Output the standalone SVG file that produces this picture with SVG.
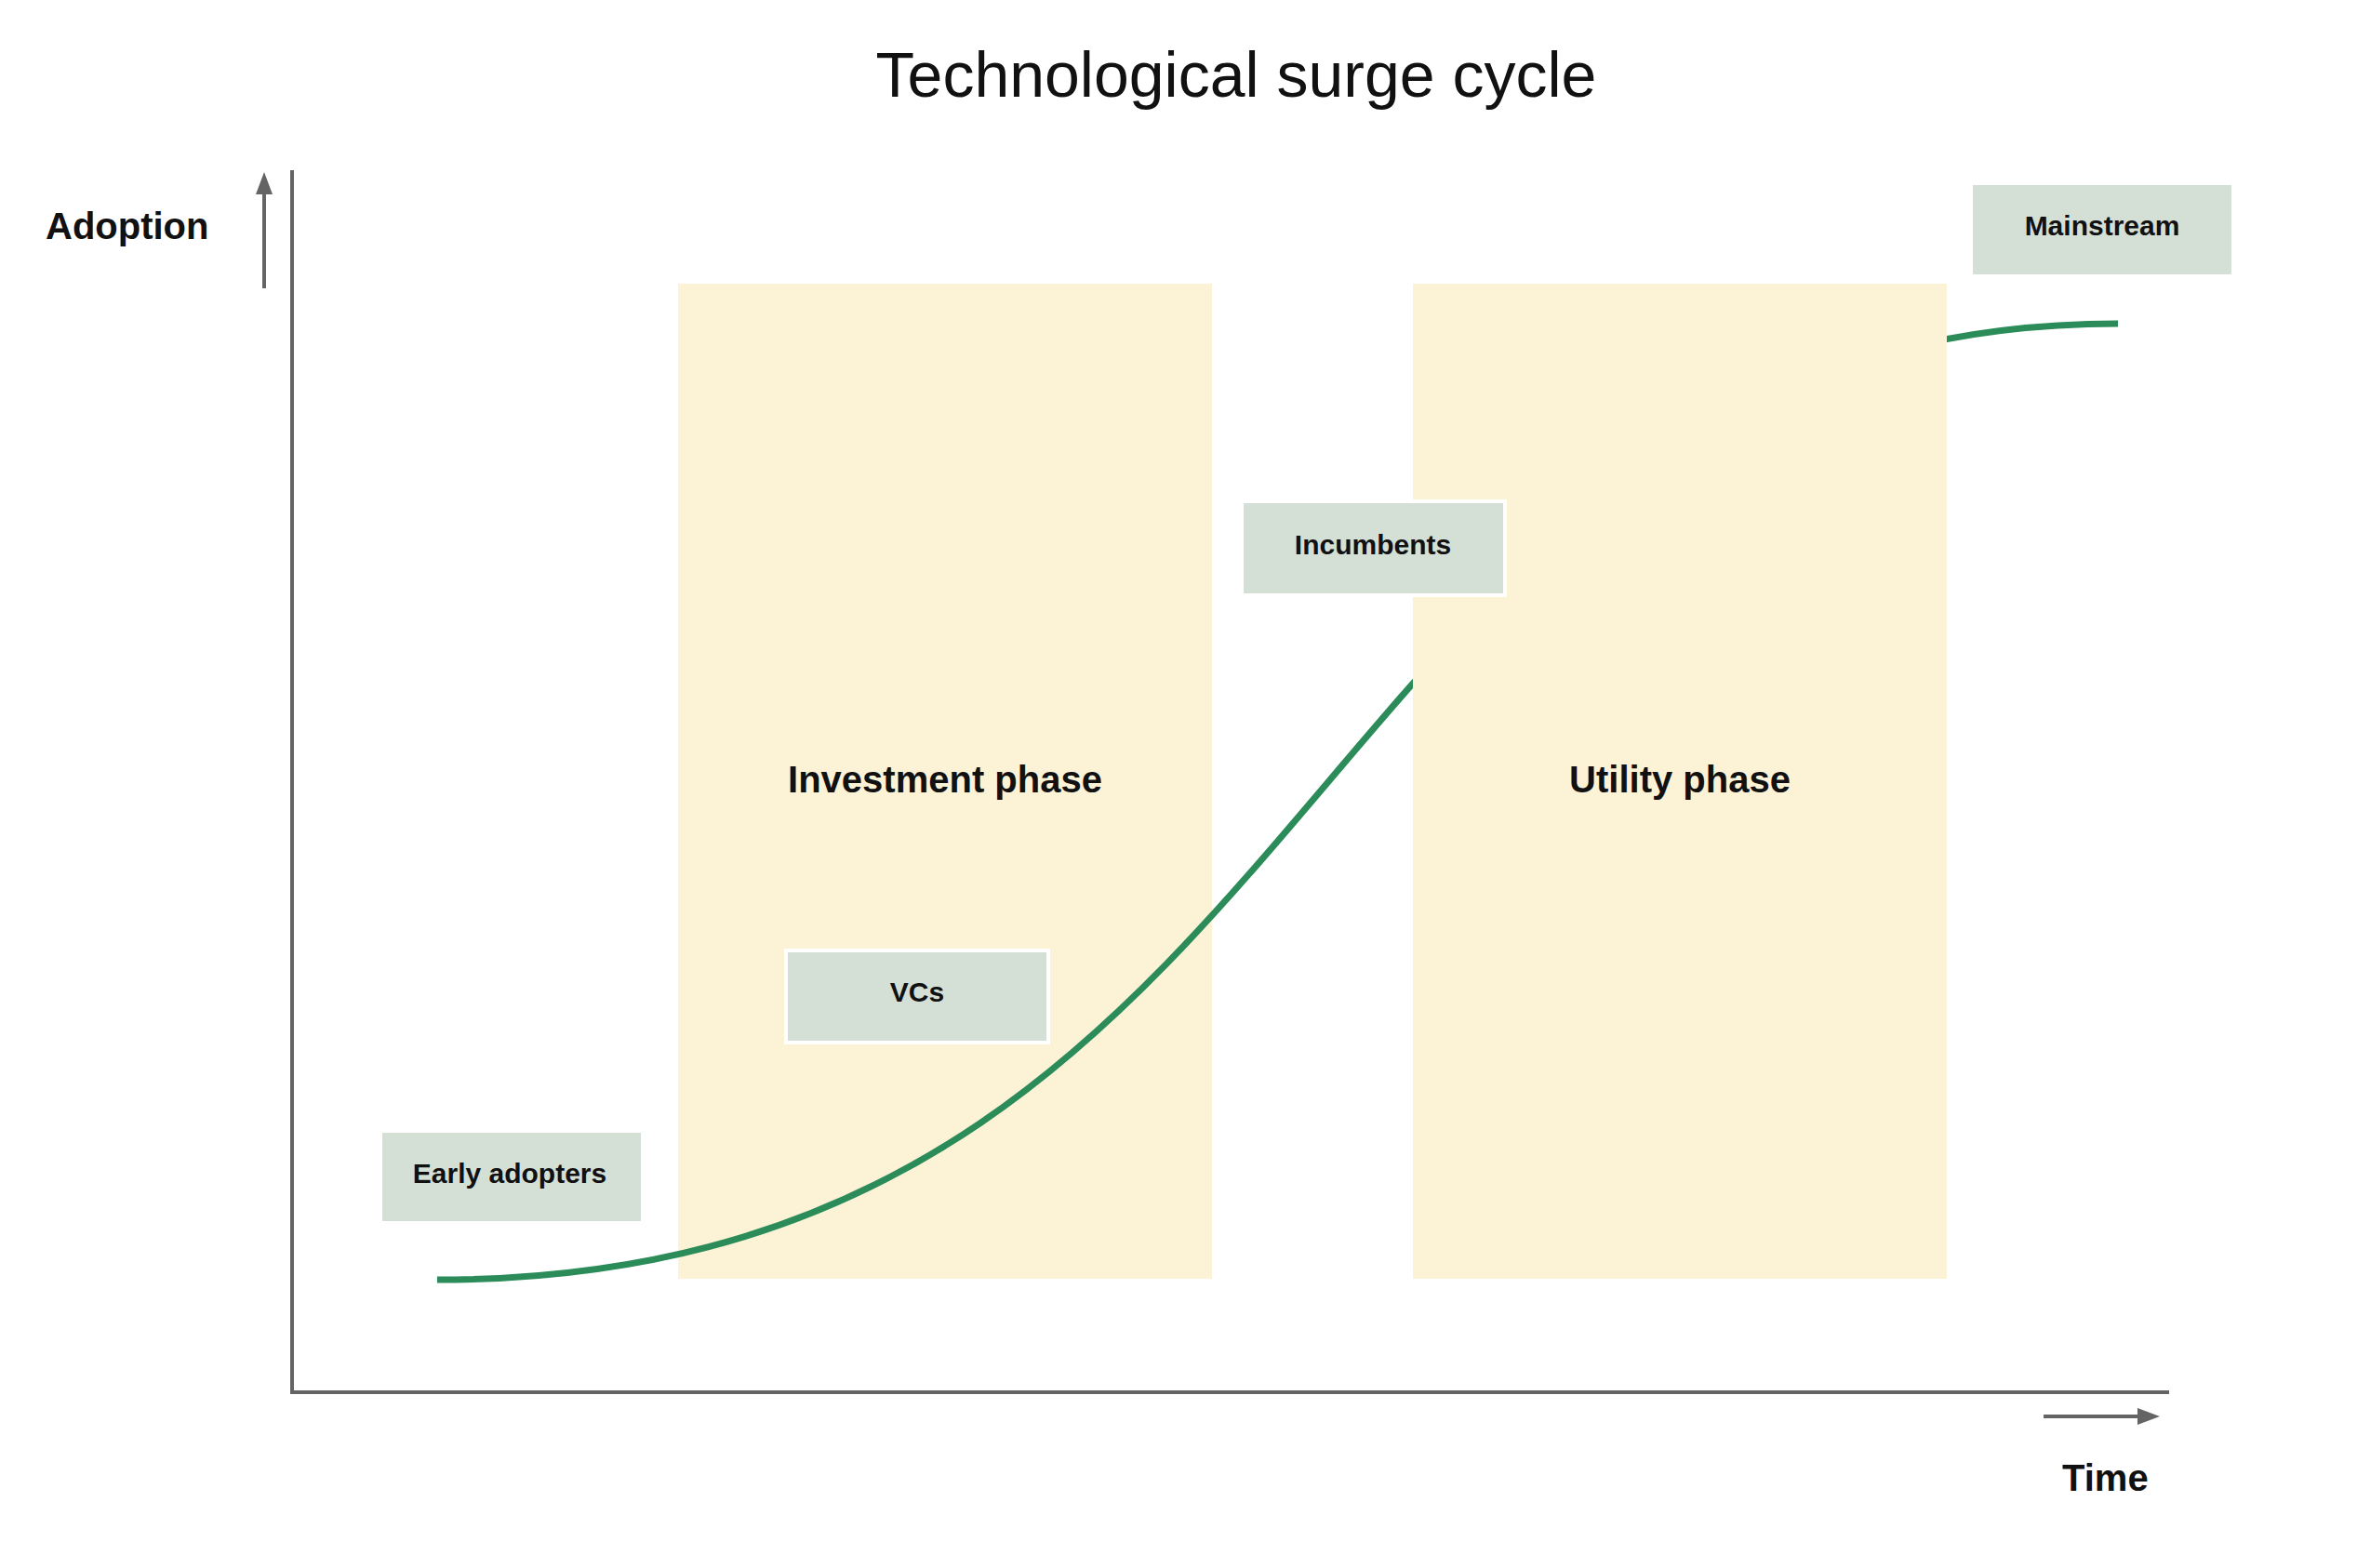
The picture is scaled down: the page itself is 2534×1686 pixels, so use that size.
<svg xmlns="http://www.w3.org/2000/svg" width="2534" height="1686" viewBox="0 0 2534 1686">
  <style>
    .phase { fill: #FCF3D7; }
    .box { fill: #D4E0D6; stroke: #FFFFFF; stroke-width: 4; }
    .boxtext { font-family: "Liberation Sans", Arial, Helvetica, sans-serif; font-weight: bold; font-size: 30px; fill: #111111; text-anchor: middle; }
    .phasetext { font-family: "Liberation Sans", Arial, Helvetica, sans-serif; font-weight: bold; font-size: 40px; fill: #111111; text-anchor: middle; }
    .axistext { font-family: "Liberation Sans", Arial, Helvetica, sans-serif; font-weight: bold; font-size: 40px; fill: #111111; }
    .title { font-family: "Liberation Sans", Arial, Helvetica, sans-serif; font-size: 68px; fill: #111111; text-anchor: middle; }
    .axis { stroke: #646464; stroke-width: 4; fill: none; }
    .curve { stroke: #2B8C5A; stroke-width: 7; fill: none; }
  </style>
  <defs>
    <marker id="arrow" viewBox="0 0 24 18" markerWidth="24" markerHeight="18" refX="0" refY="9" orient="auto" markerUnits="userSpaceOnUse">
      <path d="M0,0 L24,9 L0,18 Z" fill="#646464"/>
    </marker>
  </defs>
  <rect x="0" y="0" width="2534" height="1686" fill="#FFFFFF"/>

  <text id="title" class="title" x="1329" y="104">Technological surge cycle</text>

  <g id="investment-phase">
    <rect class="phase" x="729" y="305" width="574" height="1070"/>
    <text class="phasetext" x="1016" y="852">Investment phase</text>
  </g>

  <g id="connectors">
    <path id="adoption-curve" class="curve" d="M470,1376 C1452,1376 1392,348 2277,348"/>
    <line class="axis" x1="314" y1="183" x2="314" y2="1497"/>
    <line class="axis" x1="312" y1="1497" x2="2332" y2="1497"/>
    <line class="axis" x1="284" y1="310" x2="284" y2="209" marker-end="url(#arrow)"/>
    <line class="axis" x1="2197" y1="1523" x2="2298" y2="1523" marker-end="url(#arrow)"/>
  </g>

  <g id="utility-phase">
    <rect class="phase" x="1519" y="305" width="574" height="1070"/>
    <text class="phasetext" x="1806" y="852">Utility phase</text>
  </g>

  <g id="label-adoption">
    <text class="axistext" x="49" y="257">Adoption</text>
  </g>
  <g id="label-time">
    <text class="axistext" x="2217" y="1603">Time</text>
  </g>

  <g id="early-adopters">
    <rect class="box" x="409" y="1216" width="282" height="99"/>
    <text class="boxtext" x="548" y="1272">Early adopters</text>
  </g>
  <g id="vcs">
    <rect class="box" x="845" y="1022" width="282" height="99"/>
    <text class="boxtext" x="986" y="1077">VCs</text>
  </g>
  <g id="incumbents">
    <rect class="box" x="1335" y="539" width="283" height="101"/>
    <text class="boxtext" x="1476" y="596">Incumbents</text>
  </g>
  <g id="mainstream">
    <rect class="box" x="2119" y="197" width="282" height="100"/>
    <text class="boxtext" x="2260" y="253">Mainstream</text>
  </g>
</svg>
